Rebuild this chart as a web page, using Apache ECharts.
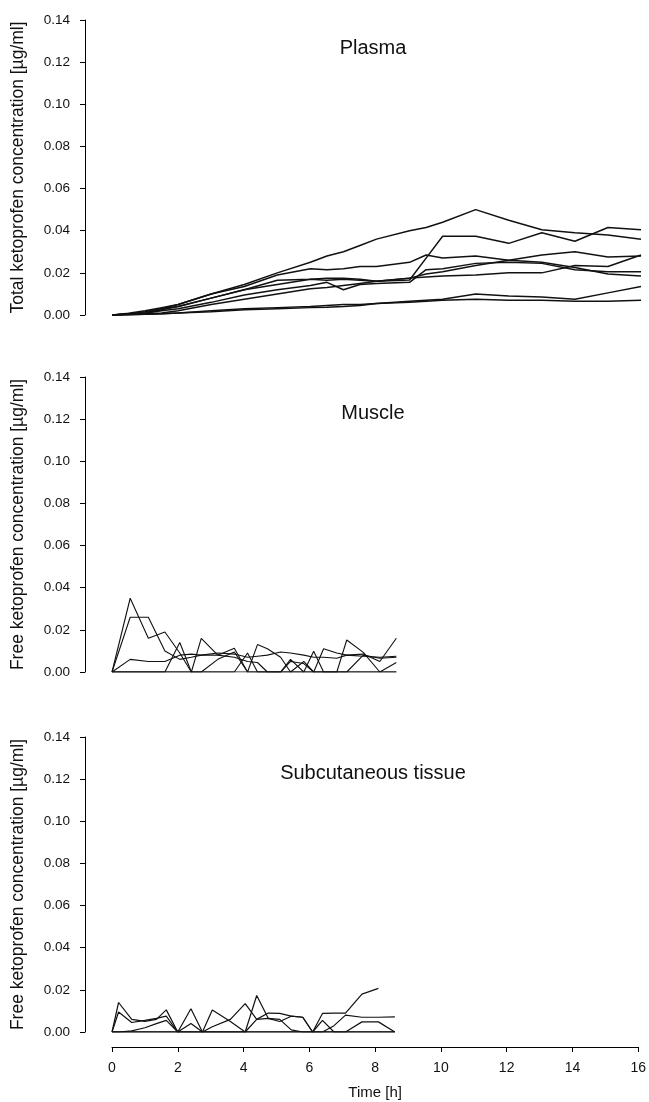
<!DOCTYPE html>
<html>
<head>
<meta charset="utf-8">
<script src="https://cdn.jsdelivr.net/npm/echarts@6/dist/echarts.min.js"></script>
<style>
  html, body { margin: 0; padding: 0; background: #fff; }
  #chart { width: 649px; height: 1102px; }
</style>
</head>
<body>
<div id="chart"></div>
<script>
// Plasma: total ketoprofen, time points [h]
var plasmaTime = [0, 0.5, 1, 1.5, 2, 3, 4, 5, 6, 6.5, 7, 7.5, 8, 9, 9.5, 10, 11, 12, 13, 14, 15, 16];
var plasma1 = [0, .0008, .002, .0035, .005, .010, .0145, .020, .025, .028, .030, .033, .036, .040, .0415, .044, .050, .045, .0405, .039, .038, .036];
var plasma2 = [0, .0005, .001, .003, .004, .008, .012, .0145, .017, .0165, .017, .0165, .016, .0166, .027, .0374, .0374, .034, .039, .035, .0415, .0405];
var plasma3 = [0, .0005, .0015, .003, .005, .010, .0135, .019, .022, .0215, .022, .023, .023, .025, .0285, .027, .028, .026, .025, .0225, .0195, .0185];
var plasma4 = [0, .0005, .001, .0025, .004, .008, .012, .0165, .017, .0175, .0175, .017, .016, .0175, .0195, .0205, .0235, .026, .0285, .030, .0275, .028];
var plasma5 = [0, .0003, .0008, .002, .003, .006, .0095, .012, .014, .0155, .012, .0145, .015, .0155, .0215, .022, .0245, .025, .0245, .0215, .0205, .0205];
var plasma6 = [0, .0002, .0005, .001, .002, .005, .0075, .010, .0125, .013, .014, .015, .016, .0175, .018, .0185, .019, .020, .020, .0235, .023, .0285];
var plasma7 = [0, .0001, .0003, .0006, .001, .002, .003, .0035, .004, .0045, .005, .005, .0055, .0065, .007, .0075, .010, .009, .0085, .0075, .0105, .0135];
var plasma8 = [0, .0001, .0003, .0006, .001, .0015, .0025, .003, .0035, .0037, .004, .0045, .0055, .006, .0065, .007, .0075, .007, .007, .0065, .0065, .007];

// Muscle: free ketoprofen
var muscleTime = [0, 0.55, 1.1, 1.6, 2.05, 2.4, 2.7, 3.2, 3.7, 4.1, 4.4, 4.7, 5.1, 5.4, 5.8, 6.1, 6.4, 6.8, 7.1, 7.6, 8.1, 8.6];
var muscle1 = [0, .035, .016, .019, .009, 0, 0, 0, 0, .009, 0, 0, 0, 0, 0, .0098, 0, 0, 0, 0, 0, .0045];
var muscle2 = [0, .026, .026, .010, .006, .007, .008, .008, .007, .005, .0045, 0, 0, .005, .004, 0, .011, .009, .008, .0085, .005, .016];
var muscle3 = [0, .006, .005, .005, .008, .0085, .008, .009, .0085, .007, .0075, .008, .0095, .009, .008, .007, .007, .0065, .008, .0075, .007, .0075];
var muscle4 = [0, 0, 0, 0, .014, 0, 0, .006, .0095, 0, .013, .011, .007, 0, 0, 0, 0, 0, 0, 0, 0, 0];
var muscle5 = [0, 0, 0, 0, 0, 0, .016, .008, .0113, 0, 0, 0, 0, 0, .005, 0, 0, 0, .0152, .0093, 0, 0];
var muscle6 = [0, 0, 0, 0, 0, 0, 0, 0, 0, 0, 0, 0, 0, .006, 0, 0, 0, 0, 0, .008, .0065, .007];

// Subcutaneous tissue: free ketoprofen
var subcutTime = [0, 0.2, 0.6, 1.0, 1.35, 1.65, 2.0, 2.4, 2.75, 3.05, 3.6, 4.05, 4.4, 4.75, 5.1, 5.45, 5.8, 6.1, 6.4, 6.75, 7.1, 7.6, 8.1, 8.6];
var subcut1 = [0, .014, .006, .005, .006, .0105, 0, 0, 0, 0, 0, 0, 0, 0, 0, 0, 0, 0, 0, 0, 0, 0, 0, 0];
var subcut2 = [0, .0095, .0045, .0055, .0065, .0075, 0, .011, 0, 0, 0, 0, .0173, .0065, .005, .0075, .007, 0, 0, 0, 0, 0, 0, 0];
var subcut3 = [0, 0, .0005, .002, .004, .0055, 0, .004, 0, .0025, .006, .0135, .006, .0065, .006, .001, 0, 0, 0, 0, 0, 0, 0, 0];
var subcut4 = [0, 0, 0, 0, 0, 0, 0, 0, 0, .0104, .005, 0, .006, .009, .0088, .0075, .007, 0, .0088, .009, .009, .018, .0207, null];
var subcut5 = [0, 0, 0, 0, 0, 0, 0, 0, 0, 0, 0, 0, 0, 0, 0, 0, 0, 0, .0055, 0, 0, .0048, .0048, 0];
var subcut6 = [0, 0, 0, 0, 0, 0, 0, 0, 0, 0, 0, 0, 0, 0, 0, 0, 0, 0, 0, .003, .008, .007, .007, .0072];

var yTicks = ['0.00', '0.02', '0.04', '0.06', '0.08', '0.10', '0.12', '0.14'];
var panelTitles = ['Plasma', 'Muscle', 'Subcutaneous tissue'];
var yNames = ['Total ketoprofen concentration [µg/ml]', 'Free ketoprofen concentration [µg/ml]', 'Free ketoprofen concentration [µg/ml]'];

var font = 'Liberation Sans, Arial, Helvetica, sans-serif';
var panels = [
    { time: plasmaTime, lines: [plasma1, plasma2, plasma3, plasma4, plasma5, plasma6, plasma7, plasma8], width: 1.5 },
    { time: muscleTime, lines: [muscle1, muscle2, muscle3, muscle4, muscle5, muscle6], width: 1.1 },
    { time: subcutTime, lines: [subcut1, subcut2, subcut3, subcut4, subcut5, subcut6], width: 1.2 }
];
var tops = [20, 377, 737];
var titleY = [48, 413, 773];

var grids = [], xAxes = [], yAxes = [], series = [], texts = [];
for (let p = 0; p < 3; p++) {
    grids.push({ left: 112, right: 8, top: tops[p], height: 295 });
    var last = p === 2;
    xAxes.push({
        gridIndex: p, type: 'value', min: 0, max: 16, interval: 2,
        show: last,
        offset: 15,
        axisLine: { show: true, onZero: false, lineStyle: { color: '#000', width: 1 } },
        axisTick: { show: true, length: 5, lineStyle: { color: '#000' } },
        axisLabel: { fontSize: 14, color: '#111', margin: 14, fontFamily: font },
        splitLine: { show: false },
        name: last ? 'Time [h]' : '',
        nameLocation: 'middle', nameGap: 38,
        nameTextStyle: { fontSize: 15, color: '#111', fontFamily: font }
    });
    yAxes.push({
        gridIndex: p, type: 'value', min: 0, max: 0.14, interval: 0.02,
        offset: 27,
        axisLine: { show: true, onZero: false, lineStyle: { color: '#000', width: 1 } },
        axisTick: { show: true, length: 5, lineStyle: { color: '#000' } },
        axisLabel: {
            fontSize: 13.5, color: '#111', margin: 15, fontFamily: font,
            formatter: function (v) { return yTicks[Math.round(v / 0.02)]; }
        },
        splitLine: { show: false },
        name: yNames[p], nameLocation: 'middle', nameGap: 58, nameMoveOverlap: false,
        nameTextStyle: { fontSize: 17.5, color: '#111', fontFamily: font }
    });
    panels[p].lines.forEach(function (vals) {
        var data = [];
        for (let i = 0; i < vals.length; i++) {
            if (vals[i] !== null) data.push([panels[p].time[i], vals[i]]);
        }
        series.push({
            type: 'line', xAxisIndex: p, yAxisIndex: p, data: data,
            symbol: 'none', silent: true,
            lineStyle: { color: '#111', width: panels[p].width }
        });
    });
    texts.push({
        type: 'text', x: 373, y: titleY[p],
        style: { text: panelTitles[p], fill: '#111', font: '20px ' + font, textAlign: 'center', textVerticalAlign: 'middle' }
    });
}

var myChart = echarts.init(document.getElementById('chart'), null, { renderer: 'canvas' });
myChart.setOption({
    animation: false,
    grid: grids,
    xAxis: xAxes,
    yAxis: yAxes,
    series: series,
    graphic: texts
});
</script>
</body>
</html>
